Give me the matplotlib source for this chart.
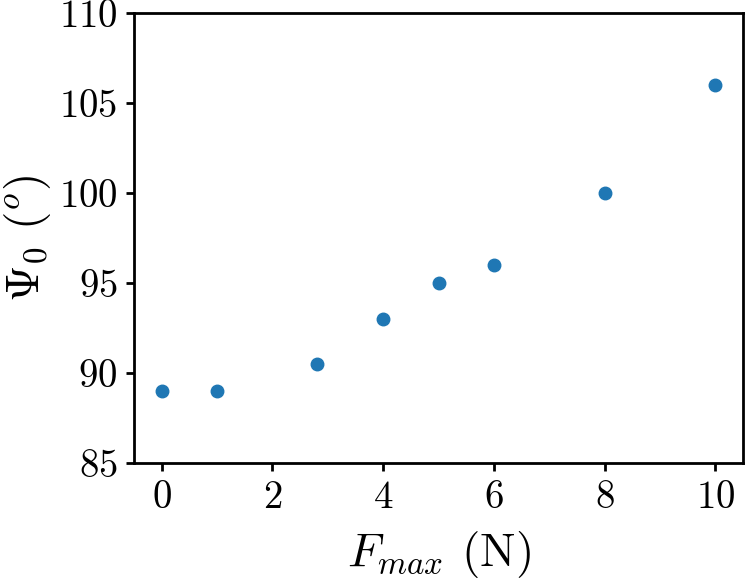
import matplotlib
matplotlib.use("Agg")
import matplotlib.pyplot as plt

plt.rcParams['font.family'] = 'serif'
plt.rcParams['font.serif'] = ['cmr10']
plt.rcParams['mathtext.fontset'] = 'cm'
plt.rcParams['axes.formatter.use_mathtext'] = True

f_max = [0, 1, 2.8, 4, 5, 6, 8, 10]
psi0 = [89, 89, 90.5, 93, 95, 96, 100, 106]
y_ticks = [85, 90, 95, 100, 105, 110]
x_ticks = [0, 2, 4, 6, 8, 10]

fig = plt.figure(figsize=(7.47, 5.82), dpi=100)
ax = fig.add_axes([134/747, 1-463/582, (743-134)/747, (463-13)/582])
ax.plot(f_max, psi0, 'o', color='#1f77b4', markersize=9)
ax.set_ylim(85, 110)
ax.set_xlim(-0.5, 10.5)
ax.set_yticks(y_ticks)
ax.set_xticks(x_ticks)
ax.tick_params(labelsize=28, width=2, length=6, direction='out', pad=6)
for s in ax.spines.values():
    s.set_linewidth(2)
ax.set_ylabel(r'$\Psi_0\ (^o)$', fontsize=34, labelpad=4)
ax.set_xlabel(r'$F_{max}$ (N)', fontsize=34, labelpad=10)
fig.savefig('out.png', dpi=100)
